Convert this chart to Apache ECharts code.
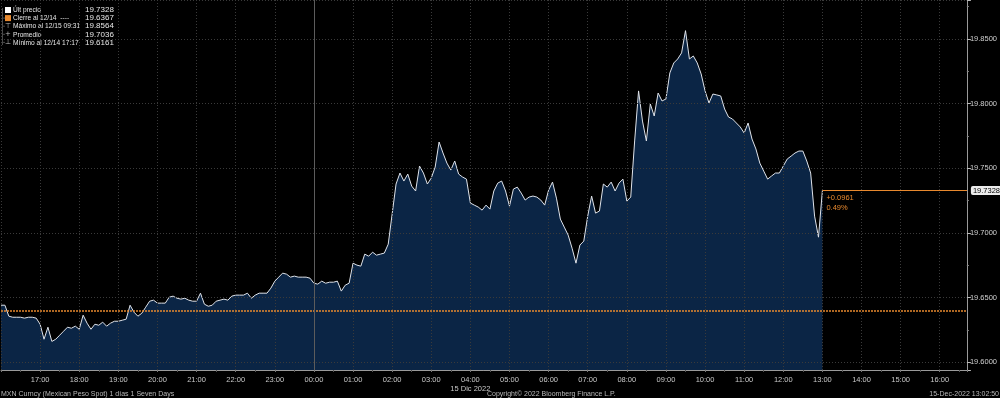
<!DOCTYPE html>
<html>
<head>
<meta charset="utf-8">
<script src="https://cdn.jsdelivr.net/npm/echarts@6.0.0/dist/echarts.min.js"></script>
<style>
  html, body { margin: 0; padding: 0; background: #000; }
  #main { width: 1000px; height: 398px; }
</style>
</head>
<body>
<div id="main"></div>
<script>
// MXN spot, 14 Dec 16:00 -> 15 Dec 13:00, one reading every 6 minutes
var startHour = 16;      // hours from 14 Dec 00:00
var stepHours = 0.1;
var prices = [
  19.6441, 19.6441, 19.6356, 19.6348, 19.6348, 19.6348, 19.6341, 19.6348, 19.6348, 19.6341,
  19.6294, 19.6178, 19.6271, 19.6161, 19.6178, 19.6209, 19.6240, 19.6271, 19.6263, 19.6279,
  19.6255, 19.6364, 19.6302, 19.6255, 19.6294, 19.6286, 19.6310, 19.6279, 19.6302, 19.6317,
  19.6317, 19.6325, 19.6333, 19.6441, 19.6387, 19.6356, 19.6379, 19.6426, 19.6472, 19.6480,
  19.6457, 19.6457, 19.6457, 19.6503, 19.6511, 19.6495, 19.6488, 19.6495, 19.6480, 19.6472,
  19.6472, 19.6534, 19.6449, 19.6433, 19.6441, 19.6472, 19.6480, 19.6488, 19.6480, 19.6511,
  19.6519, 19.6519, 19.6519, 19.6534, 19.6495, 19.6519, 19.6534, 19.6534, 19.6534, 19.6573,
  19.6627, 19.6658, 19.6689, 19.6681, 19.6658, 19.6666, 19.6658, 19.6658, 19.6658, 19.6650,
  19.6611, 19.6604, 19.6627, 19.6611, 19.6619, 19.6619, 19.6627, 19.6550, 19.6596, 19.6611,
  19.6766, 19.6751, 19.6743, 19.6836, 19.6820, 19.6851, 19.6828, 19.6836, 19.6844, 19.6913,
  19.7146, 19.7378, 19.7463, 19.7401, 19.7455, 19.7362, 19.7324, 19.7517, 19.7463, 19.7378,
  19.7424, 19.7509, 19.7703, 19.7618, 19.7540, 19.7486, 19.7556, 19.7455, 19.7432, 19.7416,
  19.7231, 19.7215, 19.7200, 19.7176, 19.7215, 19.7184, 19.7324, 19.7385, 19.7401, 19.7324,
  19.7207, 19.7339, 19.7354, 19.7308, 19.7254, 19.7277, 19.7285, 19.7277, 19.7254, 19.7215,
  19.7331, 19.7393, 19.7269, 19.7107, 19.7045, 19.6983, 19.6882, 19.6766, 19.6906, 19.6937,
  19.7130, 19.7285, 19.7153, 19.7169, 19.7378, 19.7354, 19.7393, 19.7324, 19.7385, 19.7416,
  19.7246, 19.7277, 19.7711, 19.8098, 19.7865, 19.7711, 19.7997, 19.7904, 19.8082, 19.8020,
  19.8036, 19.8237, 19.8314, 19.8345, 19.8392, 19.8564, 19.8345, 19.8368, 19.8314, 19.8229,
  19.8098, 19.8005, 19.8074, 19.8067, 19.8059, 19.7958, 19.7896, 19.7881, 19.7850, 19.7819,
  19.7772, 19.7850, 19.7726, 19.7649, 19.7540, 19.7478, 19.7416, 19.7440, 19.7463, 19.7463,
  19.7517, 19.7571, 19.7594, 19.7618, 19.7633, 19.7633, 19.7556, 19.7463, 19.7130, 19.6967,
  19.7328
];
var prevClose = 19.6367;
var lastPrice = 19.7328;
var lastChange = '+0.0961';
var lastPct = '0.49%';
var dayBreak = 24;          // 15 Dec 00:00
var dateTick = 28;          // 15 Dec 04:00 carries the date
var dateLabel = '15 Dic 2022';

var legendNames = ['Últ precio', 'Cierre al 12/14  ----', 'Máximo al 12/15 09:31', 'Promedio', 'Mínimo al 12/14 17:17'];
var legendValues = ['19.7328', '19.6367', '19.8564', '19.7036', '19.6161'];
var legendGlyphs = ['', '', '\u22a4', '+', '\u22a5'];

var footerLeft = 'MXN Curncy (Mexican Peso Spot) 1 días 1 Seven Days';
var footerMid = 'Copyright\u00a9 2022 Bloomberg Finance L.P.';
var footerRight = '15-Dec-2022 13:02:50';

var orange = '#e8892e';
var font = 'Liberation Sans, Arial, sans-serif';
var xMin = 16, xMax = 40.694;

var seriesData = prices.map(function (v, i) { return [startHour + i * stepHours, v]; });
var lastX = startHour + (prices.length - 1) * stepHours;

function pad(h) { return (h < 10 ? '0' : '') + h + ':00'; }

// legend block in the top-left corner
var graphics = [{
  type: 'line', shape: { x1: 2.5, y1: 8, x2: 2.5, y2: 45 },
  style: { stroke: '#4a4a4a', lineWidth: 1 }
}];
legendNames.forEach(function (name, i) {
  var y = 10 + i * 8.1;
  if (i > 0) {
    graphics.push({ type: 'line', shape: { x1: 2.5, y1: y, x2: 5, y2: y },
      style: { stroke: '#4a4a4a', lineWidth: 1 } });
  }
  if (i < 2) {
    graphics.push({ type: 'rect', shape: { x: 5, y: y - 3, width: 6, height: 6 },
      style: { fill: i === 0 ? '#ffffff' : orange } });
  } else {
    graphics.push({ type: 'text', x: 8, y: y,
      style: { text: legendGlyphs[i], fill: '#bbb', fontSize: 7, fontFamily: 'DejaVu Sans',
        align: 'center', verticalAlign: 'middle' } });
  }
  // names are set in a condensed cut of the face
  graphics.push({ type: 'text', x: 13, y: y, scaleX: 0.83,
    style: { text: name, fill: '#e6e6e6', fontSize: 8, fontFamily: font, verticalAlign: 'middle' } });
  graphics.push({ type: 'text', x: 85, y: y,
    style: { text: legendValues[i], fill: '#e6e6e6', fontSize: 8, fontFamily: font, verticalAlign: 'middle' } });
});
// footer
graphics.push({ type: 'text', x: 1, y: 394,
  style: { text: footerLeft, fill: '#b8b8b8', fontSize: 7, fontFamily: font, verticalAlign: 'middle' } });
graphics.push({ type: 'text', x: 487, y: 394,
  style: { text: footerMid, fill: '#b8b8b8', fontSize: 7, fontFamily: font, verticalAlign: 'middle' } });
graphics.push({ type: 'text', x: 999, y: 394,
  style: { text: footerRight, fill: '#b8b8b8', fontSize: 7, fontFamily: font, align: 'right', verticalAlign: 'middle' } });

var myChart = echarts.init(document.getElementById('main'));
myChart.setOption({
  backgroundColor: '#000',
  animation: false,
  grid: { left: 1, right: 31, top: 0, bottom: 28 },
  xAxis: {
    type: 'value',
    min: xMin,
    max: xMax,
    interval: 1,
    z: 3,
    axisLine: { lineStyle: { color: '#9a9a9a', width: 1 } },
    axisTick: { show: true, length: 2, lineStyle: { color: '#777' } },
    minorTick: { show: true, splitNumber: 2, length: 2, lineStyle: { color: '#555' } },
    splitLine: { show: true, lineStyle: { color: '#3a3a3a', type: [1, 2], width: 1 } },
    axisLabel: {
      color: '#c8c8c8', fontSize: 7.5, fontFamily: font, margin: 5, lineHeight: 9,
      showMinLabel: false, showMaxLabel: false,
      formatter: function (v) {
        if (v < 16.5 || v > 40.5) return '';
        var s = pad(Math.round(v) % 24);
        return Math.round(v) === dateTick ? s + '\n' + dateLabel : s;
      }
    }
  },
  yAxis: {
    type: 'value',
    position: 'right',
    min: 19.594,
    max: 19.8801,
    splitNumber: 5,
    z: 3,
    axisLine: { show: true, lineStyle: { color: '#9a9a9a', width: 1 } },
    axisTick: { show: true, length: 4, lineStyle: { color: '#bbb' } },
    minorTick: { show: true, splitNumber: 2, length: 2, lineStyle: { color: '#888' } },
    splitLine: { show: true, lineStyle: { color: '#3a3a3a', type: [1, 2], width: 1 } },
    axisLabel: {
      color: '#d0d0d0', fontSize: 7.5, fontFamily: font, margin: 3,
      showMinLabel: false, showMaxLabel: false,
      formatter: function (v) {
        return Math.abs(v * 20 - Math.round(v * 20)) < 1e-6 ? v.toFixed(4) : '';
      }
    }
  },
  graphic: graphics,
  series: [{
    type: 'line',
    data: seriesData,
    showSymbol: false,
    symbol: 'none',
    z: 2,
    lineStyle: { color: '#dfe3ea', width: 1 },
    areaStyle: { color: '#0b2545', opacity: 1 },
    markLine: {
      silent: true,
      symbol: ['none', 'none'],
      animation: false,
      data: [
        { yAxis: prevClose, lineStyle: { color: orange, type: [2, 1], width: 1.5 }, label: { show: false } },
        { xAxis: dayBreak, lineStyle: { color: '#5c5c5c', type: 'solid', width: 1 }, label: { show: false } },
        [
          { coord: [lastX, lastPrice], lineStyle: { color: orange, type: 'solid', width: 1 },
            label: { show: true, position: 'insideStartBottom', distance: [4, 2], formatter: lastChange + '\n' + lastPct,
              color: orange, fontSize: 7.5, fontFamily: font, lineHeight: 10, align: 'left' } },
          { coord: [xMax, lastPrice] }
        ],
        [
          { coord: [xMax - 0.3, lastPrice], lineStyle: { color: orange, type: 'solid', width: 1 },
            label: { show: true, position: 'end', distance: 4, formatter: lastPrice.toFixed(4),
              color: '#000', backgroundColor: '#ececec', padding: [1, 2, 0, 2], borderRadius: 2,
              fontSize: 7.5, fontFamily: font } },
          { coord: [xMax, lastPrice] }
        ]
      ]
    }
  }]
});
</script>
</body>
</html>
